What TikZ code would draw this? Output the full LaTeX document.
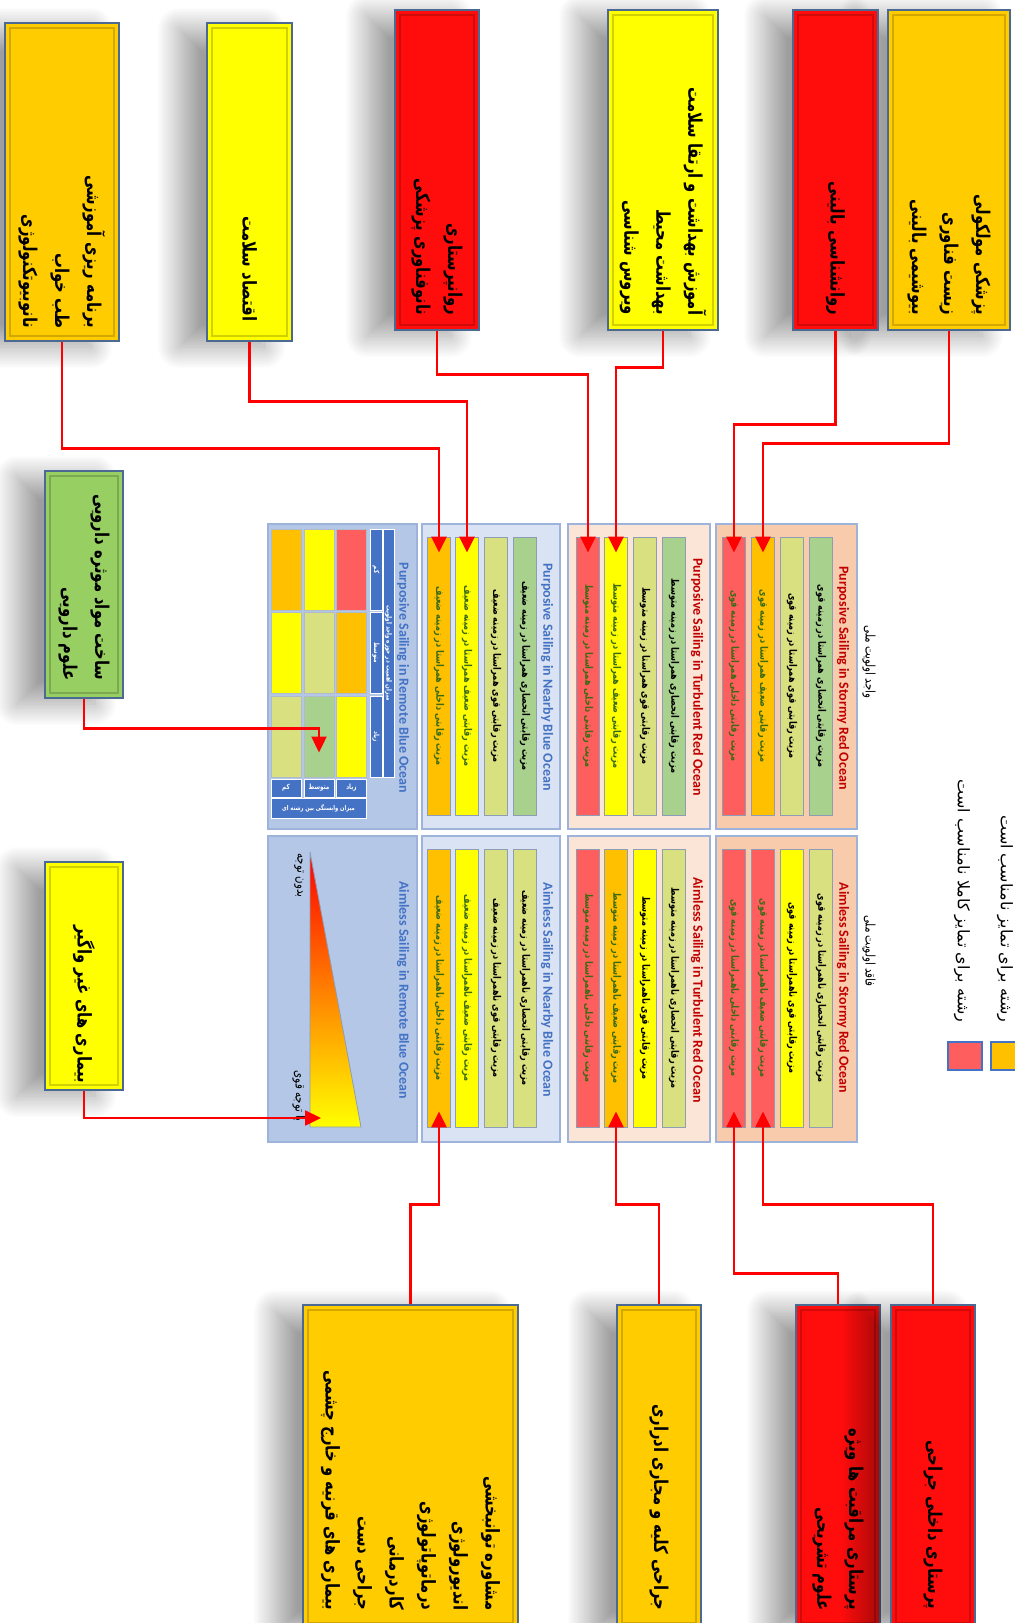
\documentclass[tikz,border=0pt]{standalone}
\usepackage{fontspec}
\setsansfont{Carlito}
\newfontfamily\fafont[Script=Arabic]{DejaVu Sans}
\newfontfamily\fanarrow[Script=Arabic, FakeStretch=0.78]{DejaVu Sans}
\TeXXeTstate=1
\usetikzlibrary{arrows.meta,shadows.blur}
\newcommand\fa[1]{{\beginR #1\endR}}
\definecolor{cgold}{HTML}{FFCC00}
\definecolor{cred}{HTML}{FF0D0D}
\definecolor{cyel}{HTML}{FFFF00}
\definecolor{cgrn}{HTML}{98CF63}
\definecolor{boxedge}{HTML}{4A6A94}
\definecolor{bred}{HTML}{FF5E5E}
\definecolor{borg}{HTML}{FFC000}
\definecolor{byel}{HTML}{FFFF00}
\definecolor{bolv}{HTML}{D9E07F}
\definecolor{bgrn}{HTML}{A9D18E}
\definecolor{bedge}{HTML}{8C9DB5}
\definecolor{pRem}{HTML}{B4C7E7}
\definecolor{pNear}{HTML}{DAE3F3}
\definecolor{pTurb}{HTML}{FBE5D6}
\definecolor{pStorm}{HTML}{F8CBAD}
\definecolor{pedge}{HTML}{9DB3DA}
\definecolor{hblue}{HTML}{4472C4}
\definecolor{tred}{HTML}{C00000}
\definecolor{tdg}{HTML}{3B6B14}
\definecolor{linkred}{HTML}{FF0000}
\tikzset{
  boxsize/.style 2 args = {minimum width=#1*0.5pt, minimum height=#2*0.5pt},
  box/.style = {draw=boxedge, line width=0.6pt, inner sep=0pt,
    blur shadow={shadow xshift=-14pt, shadow yshift=-3pt,
      shadow blur radius=11pt, shadow blur steps=30, shadow opacity=38},
    path picture={\draw[black, opacity=.18, line width=0.8pt]
      ([shift={(2.5pt,2.5pt)}]path picture bounding box.south west) rectangle
      ([shift={(-2.5pt,-2.5pt)}]path picture bounding box.north east);}},% field box
  boxtext/.style = {rotate=-90, anchor=east, align=right, inner sep=0pt,
    font=\fanarrow\bfseries\fontsize{9.5}{16}\selectfont},% field names
  panel/.style = {draw=pedge, line width=0.6pt, inner sep=0pt},% ocean panel
  ptitle/.style = {rotate=-90, inner sep=0pt,
    font=\sffamily\bfseries\fontsize{7}{8}\selectfont},% ocean title
  bar/.style = {rotate=-90, draw=bedge, line width=0.4pt, inner sep=0pt,
    minimum width=139pt, minimum height=11.5pt,
    font=\fanarrow\bfseries\fontsize{5.2}{6}\selectfont},% advantage bar
  cell/.style = {draw=bedge!70, line width=0.4pt, inner sep=0pt,
    minimum width=15pt, minimum height=40.5pt},% matrix cell
  hcell/.style = {fill=hblue, draw=white, line width=0.4pt, inner sep=0pt,
    text=white, font=\fanarrow\bfseries\fontsize{3.6}{4}\selectfont},% matrix header
  smalltext/.style = {rotate=-90, inner sep=0pt,
    font=\fanarrow\fontsize{6.6}{7}\selectfont},
  legtext/.style = {rotate=-90, anchor=east, inner sep=0pt,
    font=\fafont\fontsize{8}{9}\selectfont},
  legsq/.style = {draw=hblue, line width=0.6pt, inner sep=0pt,
    minimum width=17pt, minimum height=14pt},
  link/.style = {draw=linkred, line width=1.2pt, ->},
  into/.style = {shorten >=-8pt}
}
\begin{document}
\begin{tikzpicture}[x=0.5pt, y=-0.5pt, >={Triangle[length=8pt,width=7.5pt]}]
\useasboundingbox (0,0) rectangle (1014,1623);

% fields above
\node[box, fill=cgold, boxsize={122}{320}] (tMol) at (949,170) {};
\node[box, fill=cred, boxsize={85}{320}] (tPsy) at (835.5,170) {};
\node[box, fill=cyel, boxsize={110}{320}] (tHea) at (663,170) {};
\node[box, fill=cred, boxsize={84}{320}] (tNur) at (437,170) {};
\node[box, fill=cyel, boxsize={85}{318}] (tEco) at (249.5,182) {};
\node[box, fill=cgold, boxsize={114}{318}] (tSlp) at (62,182) {};
\node[boxtext] (tMolT) at ([yshift=7.5pt]tMol.south)
  {\fa{پزشکی مولکولی}\\\fa{زیست فناوری}\\\fa{بیوشیمی بالینی}};
\node[boxtext] (tPsyT) at ([yshift=7.5pt]tPsy.south) {\fa{روانشناسی بالینی}};
\node[boxtext] (tHeaT) at ([yshift=7.5pt]tHea.south)
  {\fa{آموزش بهداشت و ارتقا سلامت}\\\fa{بهداشت محیط}\\\fa{ویروس شناسی}};
\node[boxtext] (tNurT) at ([yshift=7.5pt]tNur.south)
  {\fa{روانپرستاری}\\\fa{نانوفناوری پزشکی}};
\node[boxtext] (tEcoT) at ([yshift=10pt]tEco.south) {\fa{اقتصاد سلامت}};
\node[boxtext] (tSlpT) at ([yshift=6.5pt]tSlp.south)
  {\fa{برنامه ریزی آموزشی}\\\fa{طب خواب}\\\fa{نانوبیوتکنولوژی}};

% fields on the left
\node[box, fill=cgrn, boxsize={78}{227}] (mDrug) at (84,584.5) {};
\node[box, fill=cyel, boxsize={78}{228}] (mNcd) at (84,976) {};
\node[boxtext] (mDrugT) at ([yshift=9pt]mDrug.south)
  {\fa{ساخت مواد موثره دارویی}\\\fa{علوم دارویی}};
\node[boxtext] (mNcdT) at ([yshift=3.5pt]mNcd.south) {\fa{بیماری های غیر واگیر}};

% fields below
\node[box, fill=cgold, boxsize={215}{323}] (bEye) at (410.5,1466.5) {};
\node[box, fill=cgold, boxsize={84}{323}] (bUro) at (659,1466.5) {};
\node[box, fill=cred, boxsize={84}{323}] (bIcu) at (838,1466.5) {};
\node[box, fill=cred, boxsize={84}{323}] (bSur) at (933,1466.5) {};
\node[boxtext] (bEyeT) at ([yshift=9pt]bEye.south)
  {\fa{مشاوره توانبخشی}\\\fa{اندیورولوژی}\\\fa{درماتوپاتولوژی}\\
   \fa{کاردرمانی}\\\fa{جراحی دست}\\\fa{بیماری های قرنیه و خارج چشمی}};
\node[boxtext] (bUroT) at ([yshift=9pt]bUro.south) {\fa{جراحی کلیه و مجاری ادراری}};
\node[boxtext] (bIcuT) at ([yshift=9pt]bIcu.south)
  {\fa{پرستاری مراقبت ها ویژه}\\\fa{علوم تشریحی}};
\node[boxtext] (bSurT) at ([yshift=9.5pt]bSur.south) {\fa{پرستاری داخلی جراحی}};

% ocean panels
\node[panel, fill=pRem, boxsize={149}{305}] (remP) at (342.5,676.5) {};
\node[panel, fill=pNear, boxsize={138}{305}] (nearP) at (491,676.5) {};
\node[panel, fill=pTurb, boxsize={142}{305}] (turbP) at (639,676.5) {};
\node[panel, fill=pStorm, boxsize={141}{305}] (stormyP) at (786.5,676.5) {};
\node[panel, fill=pRem, boxsize={149}{306}] (remA) at (342.5,989) {};
\node[panel, fill=pNear, boxsize={138}{306}] (nearA) at (491,989) {};
\node[panel, fill=pTurb, boxsize={142}{306}] (turbA) at (639,989) {};
\node[panel, fill=pStorm, boxsize={141}{306}] (stormyA) at (786.5,989) {};

\node[ptitle, text=hblue] (remPT) at (403,678) {Purposive Sailing in Remote Blue Ocean};
\node[ptitle, text=hblue] (nearPT) at (547,677) {Purposive Sailing in Nearby Blue Ocean};
\node[ptitle, text=tred] (turbPT) at (697,677) {Purposive Sailing in Turbulent Red Ocean};
\node[ptitle, text=tred] (stormyPT) at (843,678) {Purposive Sailing in Stormy Red Ocean};
\node[ptitle, text=hblue] (remAT) at (403,990) {Aimless Sailing in Remote Blue Ocean};
\node[ptitle, text=hblue] (nearAT) at (547,990) {Aimless Sailing in Nearby Blue Ocean};
\node[ptitle, text=tred] (turbAT) at (697,990) {Aimless Sailing in Turbulent Red Ocean};
\node[ptitle, text=tred] (stormyAT) at (843,988) {Aimless Sailing in Stormy Red Ocean};

\node[smalltext] (lYes) at (869,662) {\fa{واجد اولویت ملی}};
\node[smalltext] (lNo) at (869,951) {\fa{فاقد اولویت ملی}};

% purposive bars
\node[bar, fill=borg, text=tdg] (nearP1) at (439,676) {\fa{مزیت رقابتی داخلی همراستا در زمینه ضعیف}};
\node[bar, fill=byel, text=tdg] (nearP2) at (467,676) {\fa{مزیت رقابتی ضعیف همراستا در زمینه ضعیف}};
\node[bar, fill=bolv] (nearP3) at (496,676) {\fa{مزیت رقابتی قوی همراستا در زمینه ضعیف}};
\node[bar, fill=bgrn] (nearP4) at (525,676) {\fa{مزیت رقابتی انحصاری همراستا در زمینه ضعیف}};
\node[bar, fill=bred, text=tdg] (turbP1) at (588,676) {\fa{مزیت رقابتی داخلی همراستا در زمینه متوسط}};
\node[bar, fill=byel, text=tdg] (turbP2) at (616,676) {\fa{مزیت رقابتی ضعیف همراستا در زمینه متوسط}};
\node[bar, fill=bolv] (turbP3) at (645,676) {\fa{مزیت رقابتی قوی همراستا در زمینه متوسط}};
\node[bar, fill=bgrn] (turbP4) at (674,676) {\fa{مزیت رقابتی انحصاری همراستا در زمینه متوسط}};
\node[bar, fill=bred, text=tdg] (stormyP1) at (734,676) {\fa{مزیت رقابتی داخلی همراستا در زمینه قوی}};
\node[bar, fill=borg, text=tdg] (stormyP2) at (763,676) {\fa{مزیت رقابتی ضعیف همراستا در زمینه قوی}};
\node[bar, fill=bolv] (stormyP3) at (792,676) {\fa{مزیت رقابتی قوی همراستا در زمینه قوی}};
\node[bar, fill=bgrn] (stormyP4) at (821,676) {\fa{مزیت رقابتی انحصاری همراستا در زمینه قوی}};

% aimless bars
\node[bar, fill=borg, text=tdg] (nearA1) at (439,988) {\fa{مزیت رقابتی داخلی ناهمراستا در زمینه ضعیف}};
\node[bar, fill=byel, text=tdg] (nearA2) at (467,988) {\fa{مزیت رقابتی ضعیف ناهمراستا در زمینه ضعیف}};
\node[bar, fill=bolv] (nearA3) at (496,988) {\fa{مزیت رقابتی قوی ناهمراستا در زمینه ضعیف}};
\node[bar, fill=bolv] (nearA4) at (525,988) {\fa{مزیت رقابتی انحصاری ناهمراستا در زمینه ضعیف}};
\node[bar, fill=bred, text=tdg] (turbA1) at (588,988) {\fa{مزیت رقابتی داخلی ناهمراستا در زمینه متوسط}};
\node[bar, fill=borg, text=tdg] (turbA2) at (616,988) {\fa{مزیت رقابتی ضعیف ناهمراستا در زمینه متوسط}};
\node[bar, fill=byel] (turbA3) at (645,988) {\fa{مزیت رقابتی قوی ناهمراستا در زمینه متوسط}};
\node[bar, fill=bolv] (turbA4) at (674,988) {\fa{مزیت رقابتی انحصاری ناهمراستا در زمینه متوسط}};
\node[bar, fill=bred, text=tdg] (stormyA1) at (734,988) {\fa{مزیت رقابتی داخلی ناهمراستا در زمینه قوی}};
\node[bar, fill=bred, text=tdg] (stormyA2) at (763,988) {\fa{مزیت رقابتی ضعیف ناهمراستا در زمینه قوی}};
\node[bar, fill=byel] (stormyA3) at (792,988) {\fa{مزیت رقابتی قوی ناهمراستا در زمینه قوی}};
\node[bar, fill=bolv] (stormyA4) at (821,988) {\fa{مزیت رقابتی انحصاری ناهمراستا در زمینه قوی}};

% remote blue matrix
\node[cell, fill=borg] (g11) at (286,569.5) {};
\node[cell, fill=byel] (g12) at (319,569.5) {};
\node[cell, fill=bred] (g13) at (351.5,569.5) {};
\node[cell, fill=byel] (g21) at (286,653) {};
\node[cell, fill=bolv] (g22) at (319,653) {};
\node[cell, fill=borg] (g23) at (351.5,653) {};
\node[cell, fill=bolv] (g31) at (286,736.5) {};
\node[cell, fill=bgrn] (g32) at (319,736.5) {};
\node[cell, fill=byel] (g33) at (351.5,736.5) {};
\node[hcell, rotate=-90, minimum width=40.5pt, minimum height=6pt] (hImp1) at (376,569.5) {\fa{کم}};
\node[hcell, rotate=-90, minimum width=40.5pt, minimum height=6pt] (hImp2) at (376,653) {\fa{متوسط}};
\node[hcell, rotate=-90, minimum width=40.5pt, minimum height=6pt] (hImp3) at (376,736.5) {\fa{زیاد}};
\node[hcell, rotate=-90, minimum width=124pt, minimum height=5.5pt] (hImp) at (388.5,653)
  {\fa{میزان اهمیت در حوزه واجد اولویت}};
\node[hcell, minimum width=15pt, minimum height=9pt] (hDep1) at (286,788) {\fa{کم}};
\node[hcell, minimum width=15pt, minimum height=9pt] (hDep2) at (319,788) {\fa{متوسط}};
\node[hcell, minimum width=15pt, minimum height=9pt] (hDep3) at (351.5,788) {\fa{زیاد}};
\node[hcell, minimum width=47.5pt, minimum height=10pt,
  font=\fanarrow\bfseries\fontsize{3.3}{4}\selectfont] (hDep) at (318.5,808)
  {\fa{میزان وابستگی بین رشته ای}};

% attention wedge
\shadedraw[draw=bedge, line width=0.4pt, top color=red, middle color=orange,
  bottom color=yellow] (310,852) -- (310,1127) -- (361,1127) -- cycle;
\coordinate (triL) at (321,1118);
\node[smalltext, anchor=west] (lNone) at (299,853) {\fa{بدون توجه}};
\node[smalltext, anchor=east] (lStrong) at (299,1122) {\fa{با توجه قوی}};

% legend
\node[legsq, fill=bred] (legRed) at (965,1056) {};
\node[legsq, fill=borg] (legOrg) at (1008,1056) {};
\node[legtext] (legRedT) at (962,1023) {\fa{رشته برای تمایز کاملا نامناسب است}};
\node[legtext] (legOrgT) at (1005,1023) {\fa{رشته برای تمایز نامناسب است}};

% connectors
\draw[link, into] (tMol.south) -- ++(0,113) -| (stormyP2.west);
\draw[link, into] (tPsy.south) -- ++(0,94) -| (stormyP1.west);
\draw[link, into] (tHea.south) -- ++(0,37) -| (turbP2.west);
\draw[link, into] (tNur.south) -- ++(0,44) -| (turbP1.west);
\draw[link, into] (tEco.south) -- ++(0,60) -| (nearP2.west);
\draw[link, into] (tSlp.south) -- ++(0,107) -| (nearP1.west);
\draw[link, into] (mDrug.south) -- ++(0,30) -| (g32.center);
\draw[link] (mNcd.south) |- (triL);
\draw[link, into] (bEye.north) -- ++(0,-100) -| (nearA1.east);
\draw[link, into] (bUro.north) -- ++(0,-100) -| (turbA2.east);
\draw[link, into] (bIcu.north) -- ++(0,-31) -| (stormyA1.east);
\draw[link, into] (bSur.north) -- ++(0,-100) -| (stormyA2.east);
\end{tikzpicture}
\end{document}
